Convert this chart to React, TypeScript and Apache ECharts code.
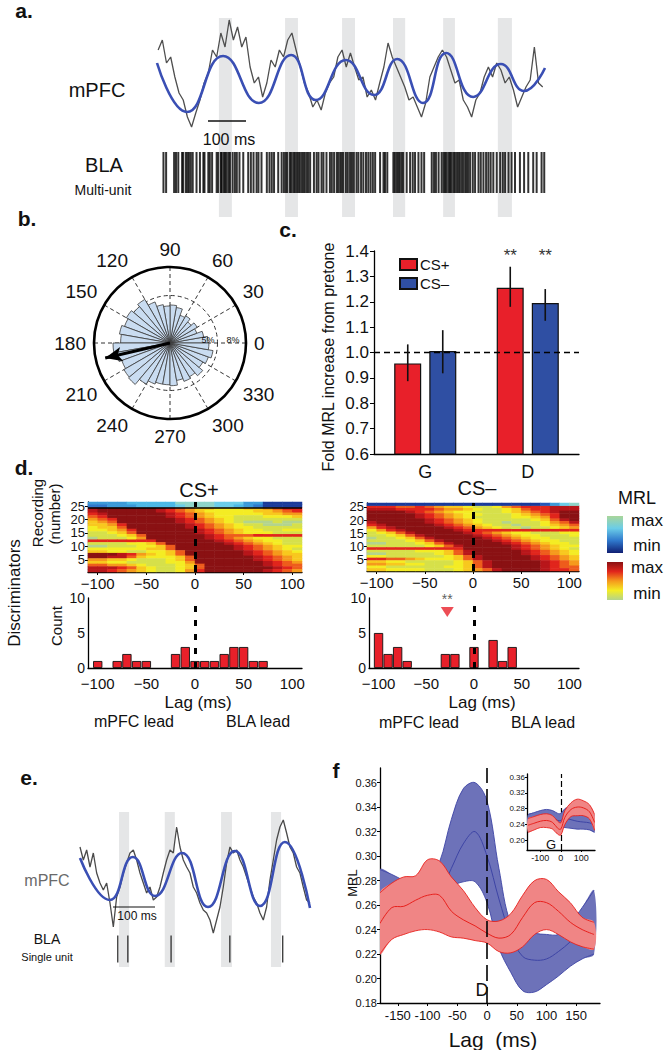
import React, { useEffect, useRef } from "react";
import * as echarts from "echarts";

const FONT = '"Liberation Sans", Arial, Helvetica, sans-serif';

// ---------------- panel a : mPFC LFP + BLA multi-unit ----------------
const A_SPAN_MS = 1021;
const A_BLUE_T = [0, 79, 174, 268, 353, 418, 497, 571, 632, 700, 761, 832, 905, 966, 1021];
const A_BLUE_V = [72, 23, 79, 32, 80, 35, 75, 40, 76, 32, 82, 38, 71, 44, 67];
const A_GRAY_T0 = 3;
const A_GRAY_DT = 11;
const A_GRAY_V = [
  85, 95, 72, 78, 58, 42, 35, 18, 8, 22,
  35, 52, 62, 85, 78, 102, 88, 115, 95, 108,
  88, 98, 68, 52, 58, 38, 52, 75, 68, 85,
  78, 95, 102, 85, 68, 52, 42, 28, 35, 25,
  42, 52, 58, 78, 85, 68, 82, 68, 55, 58,
  38, 45, 35, 52, 68, 92, 78, 68, 58, 48,
  35, 38, 28, 18, 32, 58, 68, 78, 85, 78,
  65, 52, 55, 35, 28, 18, 35, 42, 58, 68,
  58, 72, 65, 52, 58, 45, 28, 38, 48, 55,
  88, 52, 48,
];
const A_SPIKES = [
  17, 24, 45, 50, 56, 66, 69, 76, 80, 84, 89, 94, 104, 113, 122, 125, 135, 139, 145, 157, 161, 168, 170, 175,
  179, 183, 188, 192, 199, 205, 210, 217, 227, 240, 247, 254, 262, 267, 275, 289, 296, 302, 308, 319, 328,
  334, 339, 343, 350, 354, 359, 363, 368, 372, 376, 381, 385, 389, 394, 398, 403, 413, 420, 425, 433, 438,
  446, 455, 460, 466, 473, 477, 482, 486, 490, 497, 502, 508, 513, 518, 525, 530, 537, 543, 550, 556, 562,
  568, 574, 587, 596, 600, 606, 622, 626, 631, 635, 639, 644, 648, 657, 666, 673, 679, 688, 696, 703, 723,
  729, 734, 741, 749, 754, 758, 762, 767, 771, 775, 780, 784, 789, 793, 797, 802, 806, 811, 815, 819, 824,
  831, 837, 846, 852, 859, 866, 872, 878, 885, 894, 903, 910, 916, 925, 933, 942, 955, 966, 977, 990, 999,
  1012, 1019,
];
const A_PHASE_BANDS = [[163, 197], [337, 371], [487, 521], [621, 653], [753, 784], [897, 934]];

// ---------------- panel b : phase rose ----------------
const ROSE_BIN_LABELS = [
  "0", "10", "20", "30", "40", "50", "60", "70", "80", "90", "100", "110",
  "120", "130", "140", "150", "160", "170", "180", "190", "200", "210", "220", "230",
  "240", "250", "260", "270", "280", "290", "300", "310", "320", "330", "340", "350",
];
const ROSE_PCT = [
  4.0, 3.6, 3.0, 3.3, 2.9, 3.3, 3.1, 3.8, 4.0, 3.9, 4.1, 4.6,
  5.3, 5.0, 5.3, 5.1, 5.4, 5.2, 6.0, 5.7, 5.4, 5.6, 5.7, 5.0,
  4.6, 4.4, 4.4, 4.5, 4.0, 4.3, 4.1, 4.5, 4.0, 4.3, 4.6, 4.1,
];
const MEAN_ANGLE = 193;
const MEAN_LENGTH = 7.0;

// ---------------- panel c : MRL fold increase ----------------
const C_CATS = ["G", "D"];
const C_CSP = [0.957, 1.255];
const C_CSM = [1.006, 1.195];
const C_CSP_ERR = [[0.887, 1.032], [1.18, 1.338]];
const C_CSM_ERR = [[0.918, 1.088], [1.125, 1.25]];
const C_SIG_CSP = ["", "**"];
const C_SIG_CSM = ["", "**"];
const C_SIG_LEVEL = 1.382;

// ---------------- panel d : heatmaps (levels 0 = min ... 8 = max) ----------------
const HEAT_LAGS = ["-105", "-95", "-85", "-75", "-65", "-55", "-45", "-35", "-25", "-15", "-5",
  "5", "15", "25", "35", "45", "55", "65", "75", "85", "95", "105"];
const HEAT_ROWS = ["1", "2", "3", "4", "5", "6", "7", "8", "9", "10", "11", "12", "13",
  "14", "15", "16", "17", "18", "19", "20", "21", "22", "23", "24", "25", "26"];
// CS+ : rows 26..25 use the blue map, rows 24..1 the red map (top to bottom)
const CSP_TOP_ROWS = ["4444555557777666441111", "3344455556777665431111"];
const CSP_ROWS = [
  "7888888765433222334566", "7888888765432222233456", "6788888876543222223344",
  "5688888876543221112223", "4568888887654321111111", "3458888887654321000100",
  "3346888888765432110001", "2335888888765432211111", "2234688888876543221122",
  "1123588888876543222111", "1112358888887655566666", "0111248888887654322111",
  "6666666888888765432211", "1111223588888876543211", "0011122358888887654322",
  "2222223358888887654321", "3322112235888888765432", "8887643235888888765433",
  "8877532223588888876543", "4433211123588888876543", "3322111122488888887654",
  "5544321112358888887655", "7776532112358888888765", "7765432112468888887654",
];
// CS- : row 26 blue map, rows 25..1 red map
const CSM_TOP_ROWS = ["1111111111111111112467"];
const CSM_ROWS = [
  "6665565433211245666777", "7776666544321123566777", "8888765432211123456788",
  "8888876543221112345688", "8888876543211112234688", "8888887654321111123578",
  "7888887654321101112457", "6788888765432110112345", "4678888876543211011234",
  "2467888887666666666666", "1235788888765432211122", "1123578888876543221112",
  "0112357888887654322111", "1111235788888765432211", "0011123578888876543221",
  "1111112357888887654322", "6666666666888887654321", "1111122235788888765432",
  "0011111235788888765432", "2211111123578888876543", "6655432223578888876543",
  "3322111112357888887654", "4433221112357888887654", "2211111122357888887655",
  "3322221112345788887665",
];
const HIST_CSP = [[-100, 1], [-80, 1], [-70, 2], [-60, 1], [-50, 1], [-20, 2], [-10, 3], [0, 1], [10, 1],
  [20, 1], [30, 2], [40, 3], [50, 3], [60, 1], [70, 1]];
const HIST_CSM = [[-100, 5], [-90, 2], [-80, 3], [-70, 1], [-30, 2], [-20, 2], [0, 3], [20, 4], [30, 1], [40, 3]];
const CSM_MEAN_LAG = -28;
const CSM_MARK_COUNT = 8;

// ---------------- panel e : single unit ----------------
const E_SPAN_MS = 548;
const E_BLUE_T = [0, 71, 126, 179, 243, 305, 369, 429, 488, 548];
const E_BLUE_V = [82, 40, 83, 44, 87, 33, 89, 34, 98, 32];
const E_GRAY_DT = 7.94;
const E_GRAY_V = [
  93, 80, 90, 73, 87, 67, 57, 50, 57, 37,
  13, 43, 53, 67, 77, 87, 90, 80, 67, 57,
  47, 53, 40, 43, 53, 67, 80, 90, 87, 113,
  93, 80, 73, 67, 53, 47, 37, 30, 27, 20,
  7, 20, 33, 53, 77, 93, 87, 90, 80, 73,
  63, 53, 43, 37, 27, 20, 33, 60, 80, 100,
  113, 120, 107, 93, 87, 73, 67, 53, 40, 37,
];
const E_SPIKES = [90, 114, 217, 357, 483];
const E_PHASE_BANDS = [[93, 117], [202, 226], [336, 362], [455, 479]];

// ---------------- panel f : MRL vs lag ----------------
const F_LAGS = [-180, -160, -140, -120, -100, -80, -60, -40, -20, 0, 20, 40, 60, 80, 100, 120, 140, 160, 180];
const F_RED_UP = [0.270, 0.278, 0.283, 0.284, 0.297, 0.296, 0.283, 0.272, 0.258, 0.248, 0.247, 0.253, 0.268, 0.280, 0.281, 0.271, 0.262, 0.250, 0.246];
const F_RED_MEAN = [0.245, 0.258, 0.259, 0.264, 0.268, 0.268, 0.255, 0.248, 0.243, 0.237, 0.233, 0.236, 0.250, 0.262, 0.262, 0.255, 0.246, 0.240, 0.236];
const F_RED_LO = [0.220, 0.232, 0.236, 0.239, 0.240, 0.238, 0.234, 0.233, 0.231, 0.229, 0.222, 0.221, 0.226, 0.236, 0.240, 0.236, 0.230, 0.226, 0.224];
const F_BLUE_UP = [0.289, 0.285, 0.280, 0.275, 0.280, 0.295, 0.330, 0.355, 0.360, 0.345, 0.290, 0.245, 0.240, 0.237, 0.236, 0.236, 0.245, 0.258, 0.272];
const F_BLUE_MEAN = [0.262, 0.262, 0.260, 0.260, 0.262, 0.270, 0.290, 0.310, 0.320, 0.300, 0.265, 0.235, 0.218, 0.215, 0.216, 0.222, 0.230, 0.240, 0.245];
const F_BLUE_LO = [0.240, 0.240, 0.240, 0.240, 0.245, 0.265, 0.275, 0.279, 0.279, 0.262, 0.225, 0.205, 0.190, 0.189, 0.195, 0.202, 0.210, 0.216, 0.220];
const FI_LAGS = [-160, -130, -100, -70, -40, -15, 0, 20, 50, 80, 110, 140, 165];
const FI_RED_UP = [0.255, 0.260, 0.265, 0.267, 0.262, 0.248, 0.244, 0.275, 0.295, 0.304, 0.300, 0.290, 0.265];
const FI_RED_MEAN = [0.238, 0.243, 0.248, 0.250, 0.245, 0.230, 0.228, 0.258, 0.278, 0.284, 0.282, 0.272, 0.245];
const FI_RED_LO = [0.220, 0.226, 0.232, 0.232, 0.228, 0.215, 0.213, 0.240, 0.260, 0.262, 0.262, 0.254, 0.225];
const FI_BLUE_UP = [0.265, 0.270, 0.275, 0.278, 0.275, 0.268, 0.268, 0.280, 0.285, 0.282, 0.280, 0.275, 0.262];
const FI_BLUE_MEAN = [0.252, 0.256, 0.260, 0.262, 0.258, 0.250, 0.250, 0.255, 0.252, 0.248, 0.246, 0.244, 0.238];
const FI_BLUE_LO = [0.235, 0.240, 0.245, 0.246, 0.242, 0.232, 0.232, 0.232, 0.230, 0.228, 0.228, 0.226, 0.220];

// ---------------- colours ----------------
const RED_CMAP = ["#b3d48d", "#d6e04a", "#f4ec24", "#f8c81e", "#f59a1c", "#ee5c1c", "#e1251c", "#b8161a", "#8a1113"];
const BLUE_CMAP = ["#101f73", "#1a3a9a", "#2557b8", "#2f78cc", "#3b9ad9", "#4cb8e6", "#6bcde8", "#8ed4c8", "#a9d69a"];
const RED = "#e8202a";
const BLUE = "#2f4fa3";

const minus = (v: any) => String(v).replace("-", "\u2212");

function heatData(rows: string[], topRow: number) {
  const out: number[][] = [];
  rows.forEach((s, i) => {
    const r = topRow - i;
    for (let c = 0; c < s.length; c++) out.push([c, r - 1, Number(s[c])]);
  });
  return out;
}

function T(text: string, x: number, y: number, size: number, o: any = {}) {
  return {
    type: "text",
    x,
    y,
    rotation: o.rot ? Math.PI / 2 : 0,
    z: 100,
    style: {
      text,
      x: 0,
      y: 0,
      fontSize: size,
      fontFamily: FONT,
      fontWeight: o.bold ? "bold" : "normal",
      fill: o.color || "#111",
      align: "center",
      verticalAlign: "middle",
    },
  };
}

function buildOption() {
  const series: any[] = [];
  const add = (s: any) => {
    series.push(s);
    return series.length - 1;
  };
  const hid = (gridIndex: number, min: number, max: number) => ({ gridIndex, type: "value", min, max, show: false });
  const lineAx = { show: true, onZero: false, lineStyle: { color: "#000", width: 1.3 } };
  const lbl = (size: number, extra: any = {}) => ({ fontSize: size, fontFamily: FONT, color: "#111", ...extra });

  const grid = [
    { left: 157, top: 18, width: 388, height: 199 }, // 0 a bands
    { left: 157, top: 15, width: 388, height: 120 }, // 1 a trace
    { left: 157, top: 151, width: 388, height: 43 }, // 2 a raster
    { left: 374, top: 251, width: 205, height: 203 }, // 3 c
    { left: 88, top: 502, width: 214, height: 70 }, // 4 heat+
    { left: 88, top: 502, width: 214, height: 70 }, // 5 heat+ overlay
    { left: 88, top: 598, width: 214, height: 70 }, // 6 hist+
    { left: 367, top: 503, width: 212, height: 68 }, // 7 heat-
    { left: 367, top: 503, width: 212, height: 68 }, // 8 heat- overlay
    { left: 369, top: 598, width: 210, height: 70 }, // 9 hist-
    { left: 80, top: 812, width: 230, height: 155 }, // 10 e bands
    { left: 80, top: 800, width: 230, height: 140 }, // 11 e trace
    { left: 80, top: 935, width: 230, height: 28 }, // 12 e spikes
    { left: 380, top: 768, width: 220, height: 235 }, // 13 f
    { left: 527, top: 774, width: 68, height: 76 }, // 14 f inset
  ];

  const heatOverlayX = (gi: number) => ({
    gridIndex: gi, type: "value", min: -110, max: 110, minInterval: 50, maxInterval: 50,
    axisLine: lineAx, axisTick: { show: true, length: 3, lineStyle: { color: "#000" } },
    axisLabel: lbl(15, { margin: 4, showMinLabel: false, showMaxLabel: false, formatter: minus }),
    splitLine: { show: false },
  });
  const heatOverlayY = (gi: number) => ({
    gridIndex: gi, type: "value", min: 0.5, max: 26.5, minInterval: 5, maxInterval: 5,
    axisLine: lineAx, axisTick: { show: true, length: 3, lineStyle: { color: "#000" } },
    axisLabel: lbl(13, { margin: 3, showMinLabel: false, showMaxLabel: false }),
    splitLine: { show: false },
  });
  const histX = (gi: number) => ({
    gridIndex: gi, type: "value", min: -110, max: 110, minInterval: 50, maxInterval: 50,
    axisLine: lineAx, axisTick: { show: false },
    axisLabel: lbl(15, { margin: 8, showMinLabel: false, showMaxLabel: false, formatter: minus }),
    splitLine: { show: false },
  });
  const histY = (gi: number) => ({
    gridIndex: gi, type: "value", min: 0, max: 10, interval: 5,
    axisLine: lineAx, axisTick: { show: false },
    axisLabel: lbl(14, { margin: 3 }),
    splitLine: { show: false },
  });

  const xAxis = [
    hid(0, 0, A_SPAN_MS), hid(1, 0, A_SPAN_MS), hid(2, 0, A_SPAN_MS),
    { gridIndex: 3, type: "category", data: C_CATS, axisLine: lineAx, axisTick: { show: false }, axisLabel: lbl(18, { margin: 9 }) },
    { gridIndex: 4, type: "category", data: HEAT_LAGS, show: false },
    heatOverlayX(5),
    histX(6),
    { gridIndex: 7, type: "category", data: HEAT_LAGS, show: false },
    heatOverlayX(8),
    histX(9),
    hid(10, 0, E_SPAN_MS), hid(11, 0, E_SPAN_MS), hid(12, 0, E_SPAN_MS),
    {
      gridIndex: 13, type: "value", min: -180, max: 190, minInterval: 50, maxInterval: 50,
      axisLine: lineAx, axisTick: { show: true, length: 3, lineStyle: { color: "#000" } },
      axisLabel: lbl(13, { margin: 6, showMinLabel: false, showMaxLabel: false }), splitLine: { show: false },
    },
    {
      gridIndex: 14, type: "value", min: -165, max: 167, minInterval: 100, maxInterval: 100,
      axisLine: lineAx, axisTick: { show: true, length: 2, lineStyle: { color: "#000" } },
      axisLabel: lbl(9, { margin: 3, showMinLabel: false, showMaxLabel: false }), splitLine: { show: false },
    },
  ];
  const yAxis = [
    hid(0, 0, 1), hid(1, 0, 120), hid(2, 0, 1),
    {
      gridIndex: 3, type: "value", min: 0.6, max: 1.4, interval: 0.1,
      axisLine: lineAx, axisTick: { show: true, length: 4, lineStyle: { color: "#000" } },
      axisLabel: lbl(17, { margin: 5, formatter: (v: number) => v.toFixed(1) }), splitLine: { show: false },
    },
    { gridIndex: 4, type: "category", data: HEAT_ROWS, show: false },
    heatOverlayY(5),
    histY(6),
    { gridIndex: 7, type: "category", data: HEAT_ROWS, show: false },
    heatOverlayY(8),
    histY(9),
    hid(10, 0, 1), hid(11, 0, 140), hid(12, 0, 1),
    {
      gridIndex: 13, type: "value", min: 0.18, max: 0.372, interval: 0.02,
      axisLine: lineAx, axisTick: { show: true, length: 3, lineStyle: { color: "#000" } },
      axisLabel: lbl(11, { margin: 3, showMaxLabel: false, formatter: (v: number) => v.toFixed(2) }), splitLine: { show: false },
    },
    {
      gridIndex: 14, type: "value", min: 0.175, max: 0.368, minInterval: 0.04, maxInterval: 0.04,
      axisLine: lineAx, axisTick: { show: true, length: 2, lineStyle: { color: "#000" } },
      axisLabel: lbl(8, { margin: 2, showMinLabel: false, showMaxLabel: false, formatter: (v: number) => v.toFixed(2) }),
      splitLine: { show: false },
    },
  ];

  // ---- panel a ----
  add({
    type: "line", xAxisIndex: 0, yAxisIndex: 0, data: [[0, 0]], symbol: "none", lineStyle: { opacity: 0 }, z: 6, silent: true,
    markArea: {
      silent: true,
      itemStyle: { color: "#a3a5aa", opacity: 0.28 },
      data: A_PHASE_BANDS.map((b) => [{ xAxis: b[0] }, { xAxis: b[1] }]),
    },
  });
  add({
    type: "line", xAxisIndex: 1, yAxisIndex: 1, symbol: "none", z: 3,
    data: A_GRAY_V.map((v, i) => [A_GRAY_T0 + i * A_GRAY_DT, v]),
    lineStyle: { color: "#4f4f4f", width: 1.3 },
  });
  add({
    type: "line", xAxisIndex: 1, yAxisIndex: 1, symbol: "none", smooth: 0.5, z: 4,
    data: A_BLUE_T.map((t, i) => [t, A_BLUE_V[i]]),
    lineStyle: { color: "#3a4fb4", width: 2.6 },
  });
  add({
    type: "scatter", xAxisIndex: 2, yAxisIndex: 2, symbol: "rect", symbolSize: [2, 41], z: 3,
    data: A_SPIKES.map((t) => [t, 0.5]), itemStyle: { color: "#000" },
  });

  // ---- panel b ----
  add({
    type: "bar", coordinateSystem: "polar", polarIndex: 1, data: ROSE_PCT, barCategoryGap: "0%", z: 3,
    itemStyle: { color: "#c9dcf1", borderColor: "#3a3a3a", borderWidth: 0.8 },
  });
  add({
    type: "line", coordinateSystem: "polar", polarIndex: 0, z: 6,
    lineStyle: { color: "#000", width: 3 }, itemStyle: { color: "#000" },
    data: [
      { value: [0, MEAN_ANGLE], symbol: "none" },
      { value: [MEAN_LENGTH, MEAN_ANGLE], symbol: "arrow", symbolSize: [11, 17], symbolRotate: MEAN_ANGLE - 90 },
    ],
  });

  // ---- panel c ----
  add({
    name: "CS+", type: "bar", xAxisIndex: 3, yAxisIndex: 3, data: C_CSP, barWidth: 27, barGap: "30%", z: 3,
    itemStyle: { color: RED, borderColor: "#111", borderWidth: 1.2 },
    markLine: {
      silent: true, symbol: "none", label: { show: false },
      lineStyle: { type: [6, 4], color: "#000", width: 1.3 }, data: [{ yAxis: 1.0 }],
    },
  });
  add({
    name: "CS\u2013", type: "bar", xAxisIndex: 3, yAxisIndex: 3, data: C_CSM, barWidth: 27, barGap: "30%", z: 3,
    itemStyle: { color: BLUE, borderColor: "#111", borderWidth: 1.2 },
  });
  const errSeries = (errs: number[][], sig: string[], offset: number) => ({
    type: "custom", xAxisIndex: 3, yAxisIndex: 3, z: 5,
    data: errs.map((e, i) => [i, e[0], e[1]]),
    renderItem: (params: any, api: any) => {
      const i = params.dataIndex;
      const lo = api.coord([i, errs[i][0]]);
      const hi = api.coord([i, errs[i][1]]);
      const s = api.coord([i, C_SIG_LEVEL]);
      const x = lo[0] + offset;
      return {
        type: "group",
        children: [
          { type: "line", shape: { x1: x, y1: lo[1], x2: x, y2: hi[1] }, style: { stroke: "#111", lineWidth: 1.6 } },
          {
            type: "text", x, y: s[1],
            style: { text: sig[i], align: "center", verticalAlign: "middle", fontSize: 17, fontFamily: FONT, fill: "#333" },
          },
        ],
      };
    },
  });
  add(errSeries(C_CSP_ERR, C_SIG_CSP, -17.5));
  add(errSeries(C_CSM_ERR, C_SIG_CSM, 17.5));

  // ---- panel d ----
  const hPred = add({ type: "heatmap", xAxisIndex: 4, yAxisIndex: 4, data: heatData(CSP_ROWS, 24), z: 2, silent: true });
  const hPblue = add({ type: "heatmap", xAxisIndex: 4, yAxisIndex: 4, data: heatData(CSP_TOP_ROWS, 26), z: 2, silent: true });
  const hMred = add({ type: "heatmap", xAxisIndex: 7, yAxisIndex: 7, data: heatData(CSM_ROWS, 25), z: 2, silent: true });
  const hMblue = add({ type: "heatmap", xAxisIndex: 7, yAxisIndex: 7, data: heatData(CSM_TOP_ROWS, 26), z: 2, silent: true });
  const zeroMark = (extra: any[] = []) => ({
    silent: true, symbol: "none", label: { show: false },
    data: [{ xAxis: 0, lineStyle: { type: [7, 6], width: 3, color: "#000" } }, ...extra],
  });
  add({
    type: "line", xAxisIndex: 5, yAxisIndex: 5, data: [[0, 1]], symbol: "none", lineStyle: { opacity: 0 }, z: 5,
    markLine: zeroMark([{ yAxis: 24.5, lineStyle: { type: "solid", width: 1.5, color: "#000" } }]),
  });
  add({
    type: "line", xAxisIndex: 8, yAxisIndex: 8, data: [[0, 1]], symbol: "none", lineStyle: { opacity: 0 }, z: 5,
    markLine: zeroMark(),
  });
  const histSeries = (gi: number, data: number[][]) => ({
    type: "bar", xAxisIndex: gi, yAxisIndex: gi, data, barWidth: 9.3, z: 3,
    itemStyle: { color: RED, borderColor: "#111", borderWidth: 0.9 },
    markLine: {
      silent: true, symbol: "none", label: { show: false },
      data: [{ xAxis: 0 }], lineStyle: { type: [6, 8], width: 3, color: "#000" },
    },
  });
  add(histSeries(6, HIST_CSP));
  add(histSeries(9, HIST_CSM));
  add({
    type: "scatter", xAxisIndex: 9, yAxisIndex: 9, data: [[CSM_MEAN_LAG, CSM_MARK_COUNT]], symbol: "triangle",
    symbolRotate: 180, symbolSize: [13, 10], itemStyle: { color: RED }, z: 6,
    label: { show: true, position: "top", distance: 1, formatter: "**", fontSize: 14, fontFamily: FONT, color: "#333" },
  });

  // ---- panel e ----
  add({
    type: "line", xAxisIndex: 10, yAxisIndex: 10, data: [[0, 0]], symbol: "none", lineStyle: { opacity: 0 }, z: 6, silent: true,
    markArea: {
      silent: true,
      itemStyle: { color: "#a3a5aa", opacity: 0.28 },
      data: E_PHASE_BANDS.map((b) => [{ xAxis: b[0] }, { xAxis: b[1] }]),
    },
  });
  add({
    type: "line", xAxisIndex: 11, yAxisIndex: 11, symbol: "none", z: 3,
    data: E_GRAY_V.map((v, i) => [i * E_GRAY_DT, v]), lineStyle: { color: "#4a4a4a", width: 1.3 },
  });
  add({
    type: "line", xAxisIndex: 11, yAxisIndex: 11, symbol: "none", smooth: 0.5, z: 4,
    data: E_BLUE_T.map((t, i) => [t, E_BLUE_V[i]]), lineStyle: { color: "#3a4fb4", width: 2.6 },
  });
  add({
    type: "scatter", xAxisIndex: 12, yAxisIndex: 12, symbol: "rect", symbolSize: [1.3, 27], z: 3,
    data: E_SPIKES.map((t) => [t, 0.5]), itemStyle: { color: "#000" },
  });

  // ---- panel f : confidence bands drawn as smoothed polygons through the axes ----
  const SMOOTH = 0.35;
  const bandSeries = (gi: number, lags: number[], lo: number[], up: number[], mean: number[],
    fill: string, edge: string, z: number) => ({
    type: "custom", xAxisIndex: gi, yAxisIndex: gi, z, clip: true, silent: true,
    data: lags.map((l, i) => [l, lo[i], up[i], mean[i]]),
    encode: { x: 0, y: [1, 2, 3] },
    renderItem: (params: any, api: any) => {
      if (params.dataIndex !== 0) return null;
      const upPts = lags.map((l, i) => api.coord([l, up[i]]));
      const loPts = lags.map((l, i) => api.coord([l, lo[i]]));
      const mPts = lags.map((l, i) => api.coord([l, mean[i]]));
      const children: any[] = [
        { type: "polygon", shape: { points: upPts.concat(loPts.slice().reverse()), smooth: SMOOTH }, style: { fill, stroke: null } },
        { type: "polyline", shape: { points: upPts, smooth: SMOOTH }, style: { stroke: edge, lineWidth: 0.9, fill: null } },
        { type: "polyline", shape: { points: loPts, smooth: SMOOTH }, style: { stroke: edge, lineWidth: 0.9, fill: null } },
        { type: "polyline", shape: { points: mPts, smooth: SMOOTH }, style: { stroke: edge, lineWidth: 1, fill: null } },
      ];
      return { type: "group", children };
    },
  });
  add(bandSeries(13, F_LAGS, F_BLUE_LO, F_BLUE_UP, F_BLUE_MEAN, "#6d72b9", "#3d44a5", 2));
  add(bandSeries(13, F_LAGS, F_RED_LO, F_RED_UP, F_RED_MEAN, "#f08585", "#e8201c", 3));
  add({
    type: "line", xAxisIndex: 13, yAxisIndex: 13, data: [[0, 0.18]], symbol: "none", lineStyle: { opacity: 0 }, z: 6,
    markLine: {
      silent: true, symbol: "none", label: { show: false },
      data: [{ xAxis: 0 }], lineStyle: { type: [16, 6], width: 1.6, color: "#000" },
    },
  });
  add(bandSeries(14, FI_LAGS, FI_BLUE_LO, FI_BLUE_UP, FI_BLUE_MEAN, "#6d72b9", "#3d44a5", 7));
  add(bandSeries(14, FI_LAGS, FI_RED_LO, FI_RED_UP, FI_RED_MEAN, "#f08585", "#e8201c", 8));
  add({
    type: "line", xAxisIndex: 14, yAxisIndex: 14, data: [[0, 0.2]], symbol: "none", lineStyle: { opacity: 0 }, z: 9,
    markLine: {
      silent: true, symbol: "none", label: { show: false },
      data: [{ xAxis: 0 }], lineStyle: { type: [6, 3], width: 1.2, color: "#000" },
    },
  });

  const gradient = (stops: string[]) =>
    new echarts.graphic.LinearGradient(0, 0, 0, 1, stops.map((c, i) => ({ offset: i / (stops.length - 1), color: c })));

  const graphic = [
    T("a.", 24, 10, 21, { bold: true }),
    T("mPFC", 97, 90, 20),
    T("BLA", 104, 165, 20),
    T("Multi-unit", 103, 190, 14),
    { type: "line", z: 100, shape: { x1: 208, y1: 121, x2: 246, y2: 121 }, style: { stroke: "#111", lineWidth: 1.6 } },
    T("100 ms", 229, 139, 16),
    T("b.", 27, 218, 21, { bold: true }),
    T("5%", 208, 340, 9),
    T("8%", 233, 340, 9),
    T("c.", 288, 229, 21, { bold: true }),
    T("Fold MRL increase from pretone", 328, 357, 16, { rot: true }),
    T("d.", 24, 467, 21, { bold: true }),
    T("Discriminators", 14, 593, 17, { rot: true }),
    T("Recording", 37, 513, 15, { rot: true }),
    T("(number)", 54, 514, 15, { rot: true }),
    T("CS+", 199, 490, 20),
    T("CS\u2013", 477, 488, 20),
    T("Count", 56, 626, 15, { rot: true }),
    T("Lag (ms)", 198, 702, 17),
    T("Lag (ms)", 482, 702, 17),
    T("mPFC lead", 134, 721, 16),
    T("BLA lead", 258, 721, 16),
    T("mPFC lead", 419, 722, 16),
    T("BLA lead", 543, 722, 16),
    T("MRL", 637, 498, 18),
    { type: "rect", z: 100, shape: { x: 607, y: 516, width: 16, height: 37 }, style: { fill: gradient([BLUE_CMAP[8], BLUE_CMAP[6], BLUE_CMAP[3], BLUE_CMAP[0]]) } },
    { type: "rect", z: 100, shape: { x: 607, y: 562, width: 16, height: 38 }, style: { fill: gradient([RED_CMAP[8], RED_CMAP[6], RED_CMAP[4], RED_CMAP[2], RED_CMAP[0]]) } },
    T("max", 647, 520, 17),
    T("min", 647, 545, 17),
    T("max", 647, 567, 17),
    T("min", 647, 593, 17),
    T("e.", 29, 777, 21, { bold: true }),
    T("mPFC", 47, 880, 16, { color: "#6a6a6a" }),
    T("BLA", 47, 939, 14),
    T("Single unit", 47, 957, 11),
    { type: "line", z: 100, shape: { x1: 113, y1: 907, x2: 155, y2: 907 }, style: { stroke: "#111", lineWidth: 1.2 } },
    T("100 ms", 137, 916, 12),
    T("f", 336, 770, 21, { bold: true }),
    T("MRL", 352, 883, 13, { rot: true }),
    T("Lag  (ms)", 493, 1039, 21),
    T("D", 482, 990, 18),
    T("G", 551, 844, 13),
  ];

  return {
    animation: false,
    backgroundColor: "#fff",
    textStyle: { fontFamily: FONT },
    grid,
    xAxis,
    yAxis,
    polar: [
      { center: [170, 343], radius: 76 },
      { center: [170, 343], radius: 76 },
    ],
    angleAxis: [
      {
        polarIndex: 0, type: "value", min: 0, max: 360, interval: 30, startAngle: 0, clockwise: false, z: 1,
        axisLine: { lineStyle: { color: "#000", width: 2.6 } }, axisTick: { show: false },
        axisLabel: { fontSize: 19, fontFamily: FONT, color: "#111", margin: 8, formatter: (v: number) => (v === 360 ? "" : String(v)) },
        splitLine: { show: true, lineStyle: { type: [4, 3], color: "#333", width: 1 } },
      },
      { polarIndex: 1, type: "category", data: ROSE_BIN_LABELS, startAngle: 0, clockwise: false, boundaryGap: true, show: false },
    ],
    radiusAxis: [
      {
        polarIndex: 0, type: "value", min: 0, max: 8, interval: 5, z: 1,
        axisLine: { show: false }, axisTick: { show: false }, axisLabel: { show: false },
        splitLine: { show: true, lineStyle: { type: [4, 3], color: "#333", width: 1 } },
      },
      { polarIndex: 1, type: "value", min: 0, max: 8, show: false },
    ],
    legend: {
      show: true, orient: "vertical", left: 399, top: 257, itemWidth: 17, itemHeight: 11, itemGap: 4, padding: 0,
      icon: "rect", data: ["CS+", "CS\u2013"], textStyle: { fontSize: 15, fontFamily: FONT, color: "#111", padding: [0, 0, 0, -2] },
    },
    visualMap: [
      { type: "continuous", show: false, seriesIndex: [hPred, hMred], min: 0, max: 8, dimension: 2, inRange: { color: RED_CMAP } },
      { type: "continuous", show: false, seriesIndex: [hPblue, hMblue], min: 0, max: 8, dimension: 2, inRange: { color: BLUE_CMAP } },
    ],
    graphic,
    series,
  };
}

export default function App() {
  const ref = useRef<HTMLDivElement>(null);
  useEffect(() => {
    document.body.style.margin = "0";
    const chart = echarts.init(ref.current as HTMLDivElement, null, { renderer: "svg" });
    chart.setOption(buildOption() as any);
    return () => chart.dispose();
  }, []);
  return <div ref={ref} style={{ position: "absolute", left: 0, top: 0, width: 665, height: 1050, background: "#fff" }} />;
}
